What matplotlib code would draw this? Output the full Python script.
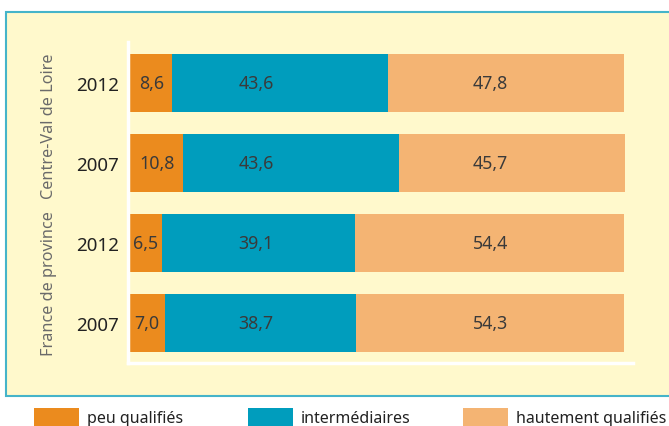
import matplotlib.pyplot as plt
from matplotlib.patches import Rectangle

# Share of jobs by qualification level (%)
groups = ['Centre-Val de Loire', 'France de province']
years = ['2012', '2007', '2012', '2007']
peu = [8.6, 10.8, 6.5, 7.0]
inter = [43.6, 43.6, 39.1, 38.7]
haut = [47.8, 45.7, 54.4, 54.3]
series_names = ['peu qualifiés', 'intermédiaires', 'hautement qualifiés']

col_peu = '#EB8B1E'
col_inter = '#009DBD'
col_haut = '#F4B473'
bg = '#FFF9CC'
label_col = '#3A3A3A'

def fmt(v):
    return '{0:.1f}'.format(v).replace('.', ',')

W, H = 669, 427
fig = plt.figure(figsize=(W / 100, H / 100), dpi=100)
fig.patch.set_facecolor('white')

# framed pale background
fig.patches.append(Rectangle((5.5 / W, 1 - 397 / H), 1.0, (397 - 13) / H,
                             transform=fig.transFigure, facecolor=bg,
                             edgecolor='#45B4C9', linewidth=1.5, zorder=-1))

ax = fig.add_axes([128 / W, 1 - 364 / H, (633 - 128) / W, (364 - 43) / H])
ax.set_facecolor('none')
ax.set_zorder(2)

ypos = [3, 2, 1, 0]
h = 0.725
ax.barh(ypos, peu, height=h, color=col_peu)
ax.barh(ypos, inter, left=peu, height=h, color=col_inter)
left_haut = [a + b for a, b in zip(peu, inter)]
ax.barh(ypos, haut, left=left_haut, height=h, color=col_haut)

txt = dict(family='Noto Sans', fontweight='light', fontsize=12.8,
           color=label_col, va='center', ha='center')
for y, a, b, c in zip(ypos, peu, inter, haut):
    ax.text(a / 2, y, fmt(a), **txt)
    ax.text(25.5, y, fmt(b), **txt)
    ax.text(73, y, fmt(c), **txt)

ax.set_xlim(-0.4, 101.8)
ax.set_ylim(-0.5, 3.51)
ax.set_xticks([])
ax.set_yticks(ypos)
ax.set_yticklabels(years, family='Noto Sans', fontsize=13.5, color='#222222')
ax.tick_params(axis='y', length=0, pad=6.5)
for s in ['top', 'right']:
    ax.spines[s].set_visible(False)
for s in ['left', 'bottom']:
    ax.spines[s].set_color('white')
    ax.spines[s].set_linewidth(2.5)

# group names, rotated, centred on their two rows
for yc, name in zip([2.47, 0.5], groups):
    ax.text(-81 / 4.94, yc, name, rotation=90, ha='center', va='center',
            family='Noto Sans', fontweight='light', fontsize=11.7,
            color='#6A6A6A')

# legend along the bottom
leg_x = [34, 248, 463]
for x, name, c in zip(leg_x, series_names, [col_peu, col_inter, col_haut]):
    fig.patches.append(Rectangle((x / W, 0), 45 / W, (427 - 409) / H,
                                 transform=fig.transFigure, facecolor=c,
                                 edgecolor='none'))
    fig.text((x + 53) / W, (427 - 423) / H, name, family='Noto Sans',
             fontsize=11.5, color='#222222', va='baseline', ha='left')

fig.savefig('out.png', dpi=100)
